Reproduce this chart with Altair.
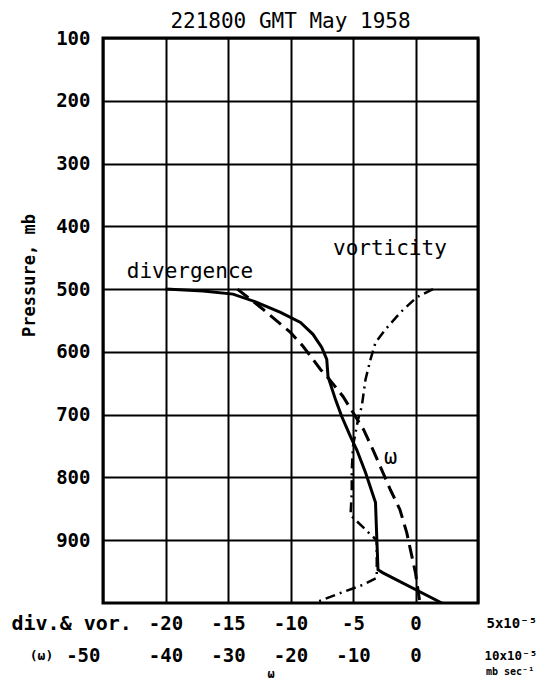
import altair as alt
import pandas as pd

MONO = "DejaVu Sans Mono"

TITLE = "221800 GMT May 1958"
Y_TICKS = [100, 200, 300, 400, 500, 600, 700, 800, 900]
DIV_TICKS = [-25, -20, -15, -10, -5, 0, 5]
OMEGA_TICKS = [-50, -40, -30, -20, -10, 0, 10]

# divergence (10^-5 s^-1) vs pressure (mb)
div_p = [500, 503, 508, 521, 537, 553, 572, 593, 612, 639, 676, 703, 735, 756, 792, 840, 895, 947, 952, 1000]
div_v = [-20.0, -17.0, -14.6, -12.7, -10.8, -9.2, -8.2, -7.5, -7.1, -7.0, -6.4, -5.9, -5.2, -4.7, -4.0, -3.2, -3.1, -3.0, -2.6, 2.1]

# vorticity (10^-5 s^-1)
vor_p = [500, 513, 537, 564, 585, 612, 644, 687, 708, 750, 790, 825, 860, 887, 900, 960, 971, 984, 1000]
vor_v = [1.4, 0.1, -1.2, -2.4, -3.2, -3.6, -4.0, -4.3, -4.6, -5.0, -5.1, -5.1, -5.2, -3.8, -3.1, -3.1, -4.2, -6.0, -8.1]

# omega (10^-5 mb s^-1)
w_p = [500, 532, 569, 591, 612, 628, 641, 671, 703, 724, 756, 820, 851, 888, 911, 952, 1000]
w_v = [-28.5, -24.4, -20.0, -18.0, -16.4, -15.2, -14.0, -11.6, -9.6, -8.3, -6.8, -4.0, -2.5, -1.4, -0.9, 0.0, 0.7]

df_div = pd.DataFrame({"p": div_p, "v": div_v, "i": range(len(div_p))})
df_vor = pd.DataFrame({"p": vor_p, "v": vor_v, "i": range(len(vor_p))})
df_w = pd.DataFrame({"p": w_p, "w": w_v, "i": range(len(w_p))})

y_scale = alt.Scale(domain=[100, 1000], reverse=True, nice=False, zero=False)
y_axis = alt.Axis(
    values=Y_TICKS, grid=True, gridColor="black", gridWidth=2, ticks=False, domain=False,
    labelFont=MONO, labelFontSize=19, labelFontWeight="bold", labelColor="black",
    labelPadding=13, labelBaseline="middle",
    title="Pressure, mb", titleFont=MONO, titleFontSize=17, titleFontWeight="bold",
    titleColor="black", titleAngle=270, titleX=-74, titleY=237,
    titleAlign="center", titleBaseline="middle",
)
y_enc = alt.Y("p:Q", scale=y_scale, axis=y_axis)

x_div = alt.X(
    "v:Q",
    scale=alt.Scale(domain=[-25, 5], nice=False, zero=False),
    axis=alt.Axis(
        values=DIV_TICKS, grid=True, gridColor="black", gridWidth=2, ticks=False, domain=False,
        labelExpr="datum.value == -25 ? '' : (datum.value == 5 ? '5x10⁻⁵' : toString(datum.value))",
        labelAlign={"expr": "datum.value == 5 ? 'left' : 'center'"},
        labelFontSize={"expr": "datum.value == 5 ? 14 : 19"},
        labelOffset={"expr": "datum.value == 5 ? 8 : 0"},
        labelFlush=False, labelPadding=20, labelBaseline="middle",
        labelFont=MONO, labelFontWeight="bold", labelColor="black",
        title="div.& vor.", titleFont=MONO, titleFontSize=20, titleFontWeight="bold",
        titleColor="black", titleX=-92, titleY=20, titleAlign="left", titleBaseline="middle",
    ),
)

x_w = alt.X(
    "w:Q",
    scale=alt.Scale(domain=[-50, 10], nice=False, zero=False),
    axis=alt.Axis(
        orient="bottom", offset=32, values=OMEGA_TICKS, grid=False, ticks=False, domain=False,
        labelExpr="datum.value == 10 ? '10x10⁻⁵' : toString(datum.value)",
        labelAlign={"expr": "datum.value == 10 ? 'left' : (datum.value == -50 ? 'right' : 'center')"},
        labelFontSize={"expr": "datum.value == 10 ? 12.5 : 19"},
        labelOffset={"expr": "datum.value == 10 ? 6 : (datum.value == -50 ? -3 : 0)"},
        labelFlush=False, labelPadding=20, labelBaseline="middle",
        labelFont=MONO, labelFontWeight="bold", labelColor="black",
        title="(ω)", titleFont=MONO, titleFontSize=13, titleFontWeight="bold",
        titleColor="black", titleX=-62, titleY=20, titleAlign="center", titleBaseline="middle",
    ),
)

div_line = alt.Chart(df_div).mark_line(color="black", strokeWidth=3).encode(
    x=x_div, y=y_enc, order=alt.Order("i:Q")
)
vor_line = alt.Chart(df_vor).mark_line(color="black", strokeWidth=2.5, strokeDash=[10, 5, 2, 5]).encode(
    x=alt.X("v:Q"), y=alt.Y("p:Q"), order=alt.Order("i:Q")
)

def label(text, xv, pv, size=21, weight="normal", align="left"):
    return alt.Chart(pd.DataFrame({"t": [text]})).mark_text(
        font=MONO, fontSize=size, fontWeight=weight, align=align, baseline="middle", color="black"
    ).encode(x=alt.datum(xv), y=alt.datum(pv), text="t:N")

lbl_div = label("divergence", -23.1, 473)
lbl_vor = label("vorticity", -6.6, 436)
lbl_w = label("ω", -2.0, 767, size=22, align="center")

lbl_units = alt.Chart(pd.DataFrame({"t": ["mb sec⁻¹"]})).mark_text(
    font=MONO, fontSize=10, fontWeight="bold", align="left", baseline="middle", color="black"
).encode(x=alt.value(383), y=alt.value(634), text="t:N")
lbl_wbot = alt.Chart(pd.DataFrame({"t": ["ω"]})).mark_text(
    font=MONO, fontSize=12, fontWeight="bold", align="center", baseline="middle", color="black"
).encode(x=alt.value(168), y=alt.value(636), text="t:N")

left = alt.layer(div_line, vor_line, lbl_div, lbl_vor, lbl_w, lbl_units, lbl_wbot)

w_line = alt.Chart(df_w).mark_line(color="black", strokeWidth=3, strokeDash=[14, 7]).encode(
    x=x_w, y=alt.Y("p:Q", scale=y_scale, axis=y_axis), order=alt.Order("i:Q")
)

chart = (
    alt.layer(left, w_line)
    .resolve_scale(x="independent")
    .properties(
        width=375,
        height=565,
        title=alt.TitleParams(text=TITLE, font=MONO, fontSize=21, fontWeight="normal",
                              color="black", anchor="middle", offset=-3),
        autosize=alt.AutoSizeParams(type="none"),
        padding={"left": 95, "top": 30, "right": 59, "bottom": 77},
        background="white",
    )
    .configure_view(stroke="black", strokeWidth=3)
)

chart.save("out.html", embed_options={"renderer": "svg", "actions": False})
